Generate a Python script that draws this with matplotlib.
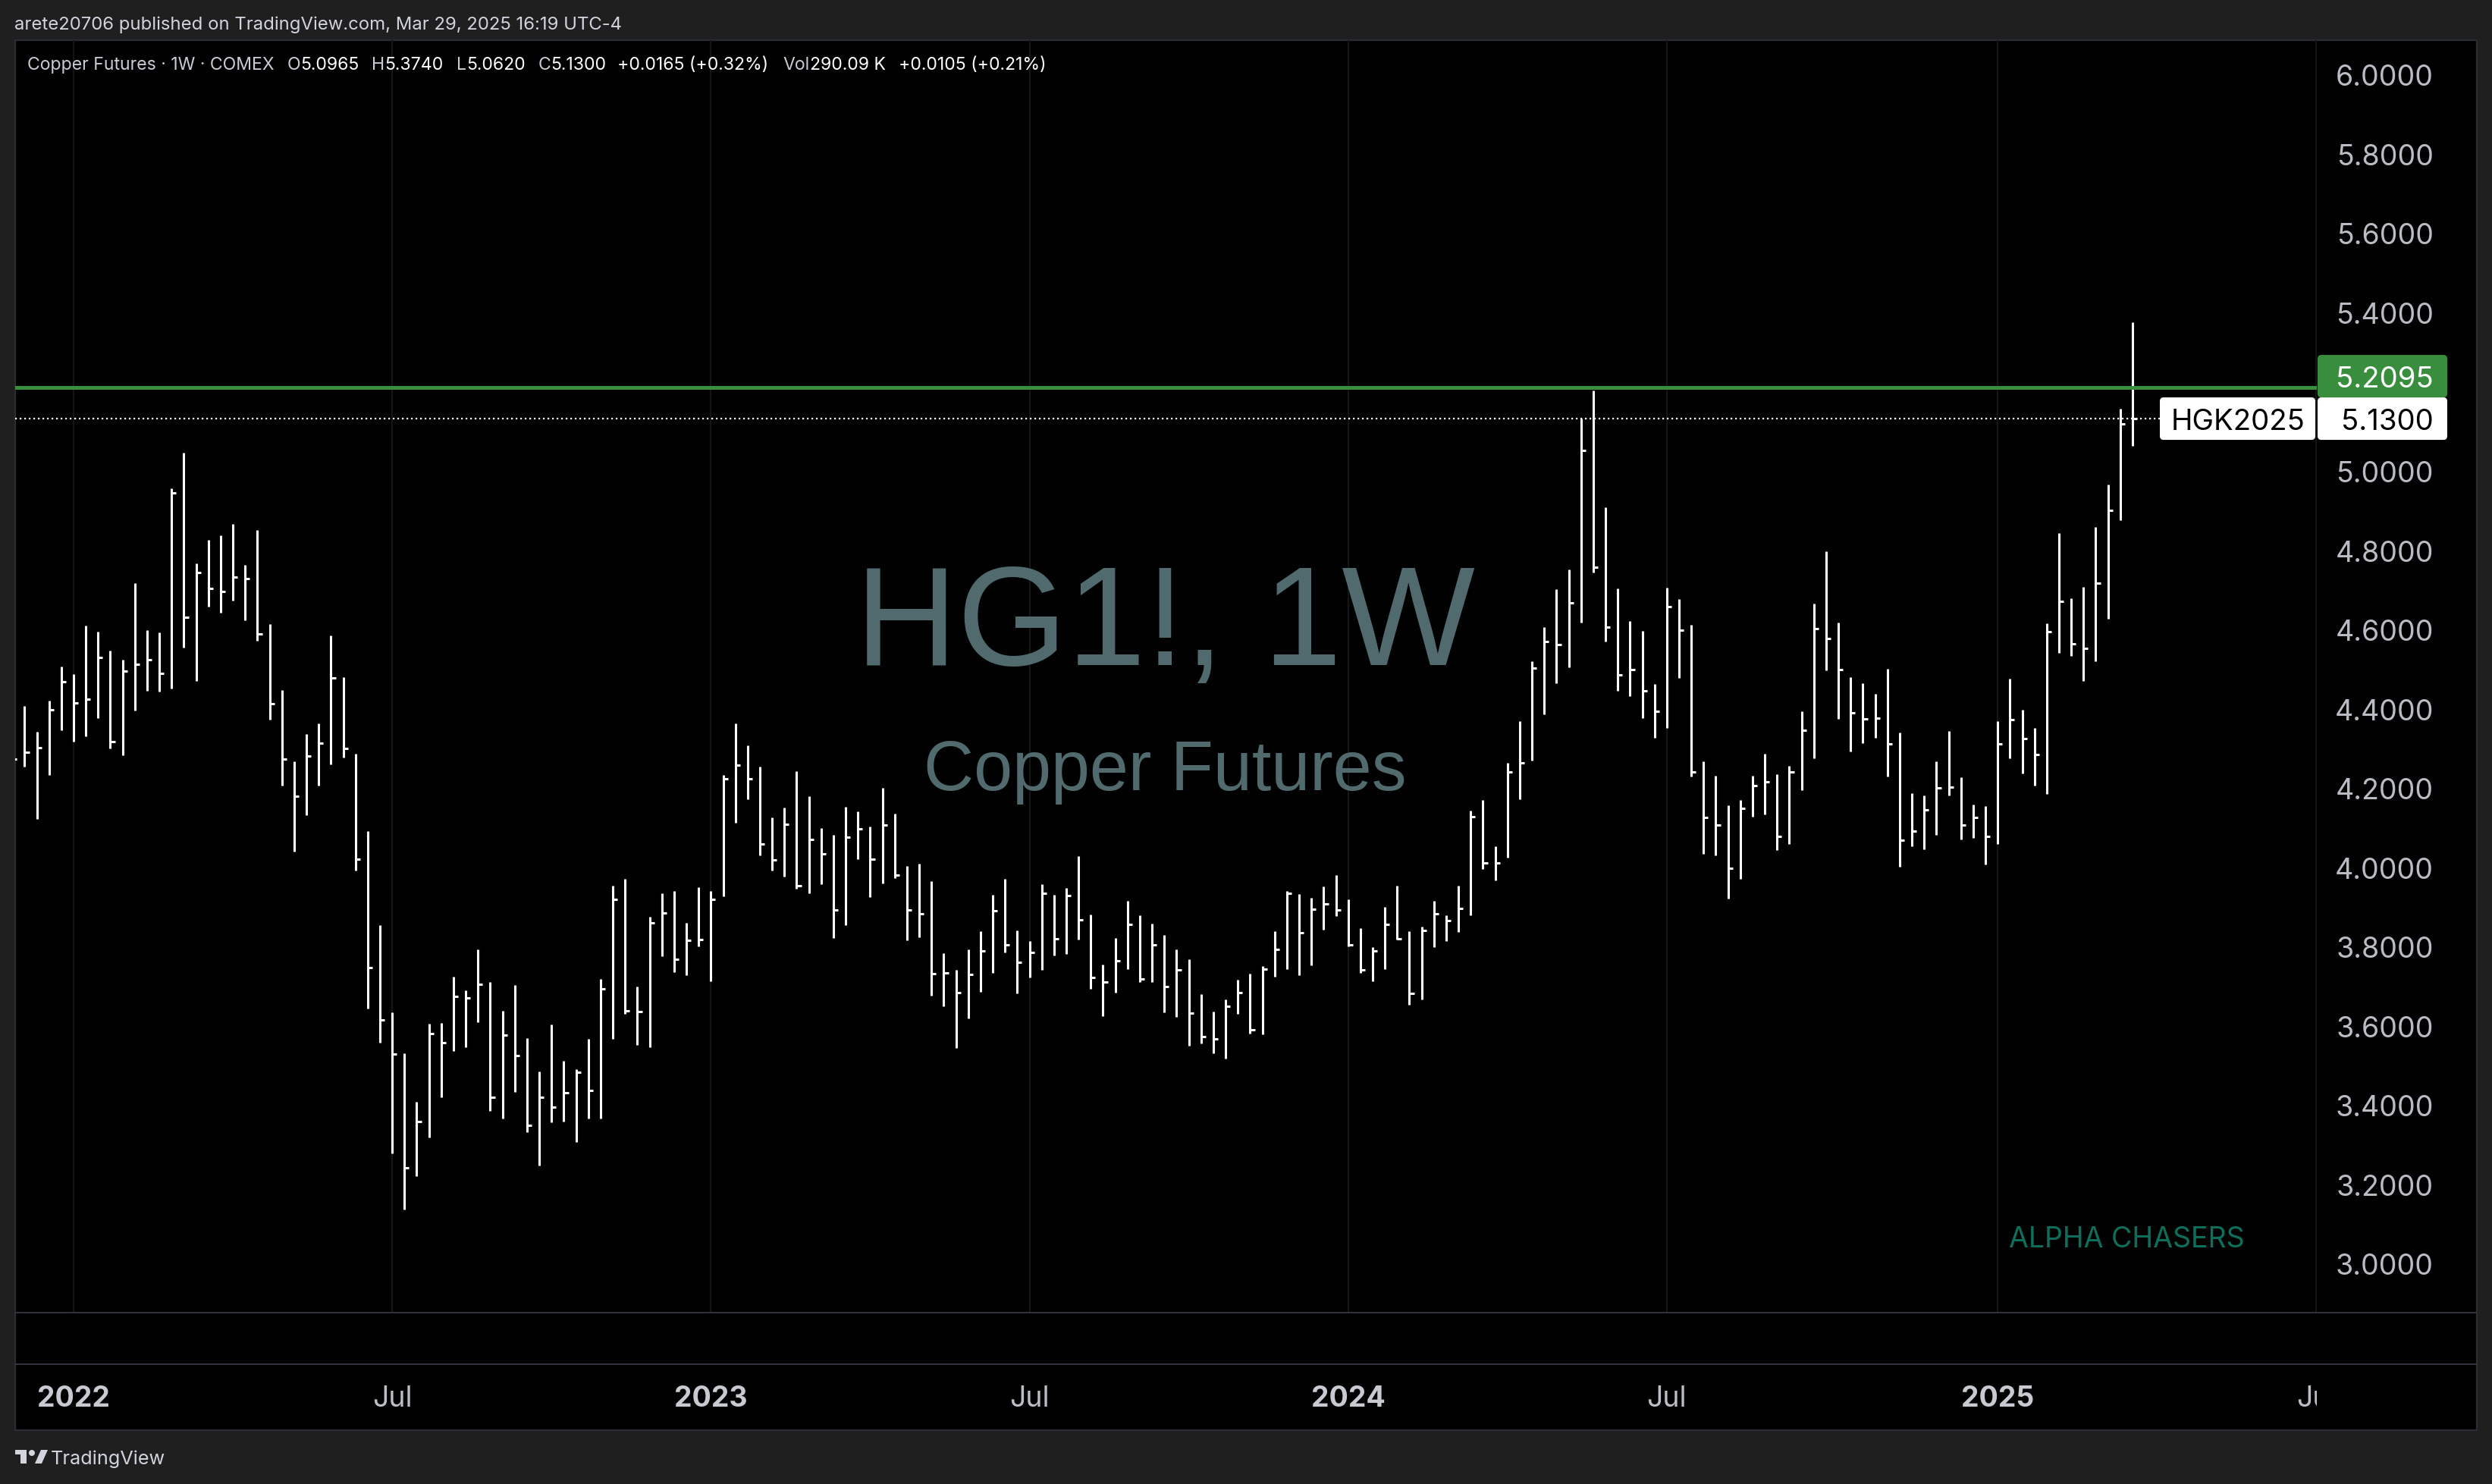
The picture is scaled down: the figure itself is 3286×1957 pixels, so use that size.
import matplotlib

matplotlib.use("Agg")
import matplotlib.pyplot as plt
import matplotlib.transforms as mtransforms
import numpy as np
import pandas as pd
from matplotlib.patches import FancyBboxPatch, Polygon, Rectangle, Circle

plt.rcParams["font.family"] = ["Inter", "DejaVu Sans"]

# недельные бары HG1! (HLC), первая неделя 2021-11-29
START = "2021-11-29"
highs = [4.40, 4.405, 4.339, 4.418, 4.505, 4.486, 4.608, 4.592, 4.545, 4.521,
         4.714, 4.596, 4.590, 4.955, 5.044, 4.765, 4.823, 4.835, 4.865, 4.761,
         4.848, 4.612, 4.446, 4.266, 4.334, 4.361, 4.582, 4.477, 4.285, 4.090,
         3.852, 3.632, 3.529, 3.406, 3.603, 3.605, 3.721, 3.688, 3.790, 3.708,
         3.636, 3.701, 3.566, 3.483, 3.601, 3.510, 3.489, 3.565, 3.716, 3.952,
         3.968, 3.697, 3.872, 3.932, 3.937, 3.857, 3.948, 3.937, 4.230, 4.361,
         4.306, 4.251, 4.123, 4.148, 4.240, 4.177, 4.097, 4.080, 4.150, 4.138,
         4.101, 4.198, 4.134, 4.002, 4.007, 3.962, 3.781, 3.739, 3.791, 3.837,
         3.929, 3.969, 3.838, 3.812, 3.956, 3.929, 3.946, 4.026, 3.879, 3.752,
         3.819, 3.913, 3.877, 3.856, 3.827, 3.790, 3.765, 3.678, 3.634, 3.664,
         3.714, 3.730, 3.749, 3.837, 3.937, 3.930, 3.921, 3.949, 3.978, 3.917,
         3.844, 3.796, 3.898, 3.952, 3.837, 3.848, 3.913, 3.876, 3.952, 4.141,
         4.168, 4.050, 4.262, 4.367, 4.518, 4.604, 4.700, 4.750, 5.130, 5.201,
         4.906, 4.702, 4.619, 4.595, 4.461, 4.704, 4.675, 4.609, 4.266, 4.229,
         4.155, 4.168, 4.229, 4.284, 4.232, 4.253, 4.391, 4.663, 4.796, 4.615,
         4.477, 4.463, 4.435, 4.498, 4.337, 4.184, 4.180, 4.266, 4.341, 4.225,
         4.157, 4.152, 4.366, 4.474, 4.395, 4.349, 4.614, 4.842, 4.676, 4.706,
         4.857, 4.963, 5.155, 5.374]
lows = [4.24, 4.252, 4.119, 4.231, 4.343, 4.314, 4.329, 4.374, 4.298, 4.281,
        4.394, 4.443, 4.441, 4.449, 4.552, 4.468, 4.655, 4.640, 4.670, 4.622,
        4.569, 4.370, 4.203, 4.037, 4.130, 4.203, 4.258, 4.274, 3.990, 3.641,
        3.555, 3.276, 3.135, 3.219, 3.316, 3.418, 3.534, 3.543, 3.606, 3.383,
        3.364, 3.431, 3.329, 3.245, 3.355, 3.356, 3.305, 3.364, 3.364, 3.564,
        3.628, 3.550, 3.543, 3.774, 3.734, 3.725, 3.799, 3.710, 3.925, 4.110,
        4.169, 4.027, 3.990, 3.974, 3.944, 3.933, 3.956, 3.819, 3.851, 4.018,
        3.922, 3.958, 3.971, 3.813, 3.821, 3.674, 3.648, 3.541, 3.617, 3.683,
        3.731, 3.782, 3.679, 3.719, 3.738, 3.776, 3.779, 3.816, 3.691, 3.622,
        3.682, 3.741, 3.709, 3.709, 3.631, 3.621, 3.547, 3.554, 3.529, 3.515,
        3.628, 3.579, 3.577, 3.722, 3.740, 3.726, 3.751, 3.840, 3.875, 3.799,
        3.732, 3.711, 3.741, 3.815, 3.651, 3.665, 3.797, 3.812, 3.834, 3.876,
        3.994, 3.965, 4.022, 4.170, 4.268, 4.383, 4.463, 4.503, 4.615, 4.741,
        4.568, 4.444, 4.429, 4.374, 4.324, 4.350, 4.475, 4.226, 4.032, 4.027,
        3.918, 3.968, 4.125, 4.132, 4.041, 4.057, 4.193, 4.272, 4.494, 4.373,
        4.290, 4.311, 4.324, 4.227, 4.000, 4.050, 4.043, 4.079, 4.179, 4.068,
        4.072, 4.004, 4.057, 4.273, 4.235, 4.204, 4.182, 4.539, 4.531, 4.468,
        4.517, 4.625, 4.873, 5.062]
closes = [4.271, 4.289, 4.299, 4.396, 4.466, 4.413, 4.422, 4.528, 4.315, 4.492,
          4.510, 4.521, 4.488, 4.942, 4.628, 4.742, 4.701, 4.693, 4.730, 4.726,
          4.586, 4.410, 4.270, 4.178, 4.279, 4.311, 4.475, 4.298, 4.018, 3.745,
          3.612, 3.526, 3.239, 3.356, 3.579, 3.556, 3.672, 3.668, 3.702, 3.417,
          3.574, 3.523, 3.346, 3.418, 3.392, 3.428, 3.480, 3.435, 3.692, 3.917,
          3.635, 3.634, 3.857, 3.883, 3.766, 3.814, 3.815, 3.916, 4.222, 4.255,
          4.221, 4.056, 4.016, 4.107, 3.951, 4.068, 4.032, 3.891, 4.074, 4.095,
          4.018, 4.104, 3.978, 3.890, 3.881, 3.730, 3.732, 3.682, 3.728, 3.787,
          3.889, 3.803, 3.759, 3.783, 3.933, 3.818, 3.926, 3.866, 3.719, 3.708,
          3.762, 3.853, 3.716, 3.803, 3.697, 3.738, 3.629, 3.570, 3.565, 3.648,
          3.682, 3.587, 3.740, 3.791, 3.933, 3.832, 3.892, 3.905, 3.891, 3.802,
          3.738, 3.787, 3.853, 3.818, 3.679, 3.839, 3.881, 3.863, 3.893, 4.126,
          4.009, 4.008, 4.238, 4.261, 4.500, 4.568, 4.559, 4.666, 5.050, 4.756,
          4.603, 4.484, 4.497, 4.444, 4.392, 4.655, 4.596, 4.238, 4.124, 4.105,
          3.996, 4.146, 4.203, 4.213, 4.075, 4.238, 4.344, 4.601, 4.576, 4.497,
          4.388, 4.373, 4.375, 4.310, 4.066, 4.090, 4.143, 4.199, 4.200, 4.104,
          4.124, 4.076, 4.309, 4.370, 4.323, 4.283, 4.593, 4.668, 4.562, 4.550,
          4.714, 4.899, 5.117, 5.130]

LEVEL = 5.2095
LAST_CLOSE = 5.13
CONTRACT = "HGK2025"
price_ticks = [3.0, 3.2, 3.4, 3.6, 3.8, 4.0, 4.2, 4.4, 4.6, 4.8, 5.0, 5.2, 5.4, 5.6, 5.8, 6.0]
time_tick_dates = ["2022-01-03", "2022-07-04", "2023-01-02", "2023-07-03",
                   "2024-01-01", "2024-07-01", "2025-01-06", "2025-07-07"]
time_tick_labels = ["2022", "Jul", "2023", "Jul", "2024", "Jul", "2025", "Jul"]

HEADER = "arete20706 published on TradingView.com, Mar 29, 2025 16:19 UTC-4"
LEGEND = [("Copper Futures · 1W · COMEX", "lab", 17),
          ("O", "lab", 0), ("5.0965", "val", 17),
          ("H", "lab", 0), ("5.3740", "val", 17),
          ("L", "lab", 0), ("5.0620", "val", 17),
          ("C", "lab", 0), ("5.1300", "val", 15),
          ("+0.0165 (+0.32%)", "val", 19),
          ("Vol", "lab", 0), ("290.09 K", "val", 17),
          ("+0.0105 (+0.21%)", "val", 0)]

W, H, DPI = 3286, 1958, 200
PX0, PY0, PX1, PY1 = 20, 54, 3055, 1732
BG = "#1f1f1f"
LINE = "#30333c"
TXT = "#d1d4dc"
AXTXT = "#babcc4"
TDY = 5  # поправка вертикального центра цифр, px

fig = plt.figure(figsize=(W / DPI, H / DPI), dpi=DPI)
fig.patch.set_facecolor(BG)
# пиксели фигуры, начало в левом верхнем углу
FPX = mtransforms.Affine2D().scale(1 / W, -1 / H).translate(0, 1) + fig.transFigure


def px_axes(x0, y0, x1, y1):
    return fig.add_axes([x0 / W, 1 - y1 / H, (x1 - x0) / W, (y1 - y0) / H])


fig.add_artist(Rectangle((20, 54), 3246, 1833, transform=FPX, facecolor="black",
                         edgecolor="#2a2d35", lw=0.8, zorder=-2))
for yy in (1732, 1800):
    fig.add_artist(Rectangle((20, yy - 1), 3246, 2, transform=FPX, facecolor=LINE,
                             edgecolor="none", zorder=4))

weeks = pd.date_range(START, periods=len(closes), freq="7D")
x = np.arange(len(closes))
t0 = weeks[0]
tick_idx = [(pd.Timestamp(d) - t0).days / 7 for d in time_tick_dates]

ax = px_axes(PX0, PY0, PX1, PY1)
ax.set_facecolor("black")
ax.set_axis_off()
ax.set_xlim(0.235, 188.04)
ax.set_ylim(2.874, 6.085)

ax.vlines(tick_idx, 2.874, 6.085, colors="#151515", lw=0.8, zorder=0)
ax.vlines(x, lows, highs, colors="white", lw=1.1, capstyle="butt", zorder=2)
ax.hlines(closes, x, x + 0.38, colors="white", lw=1.1, capstyle="butt", zorder=2)
ax.axhline(LEVEL, color="#388e3c", lw=1.8, zorder=3)
bt = mtransforms.blended_transform_factory(ax.transAxes, ax.transData)
ax.plot([0, 0.9318], [LAST_CLOSE, LAST_CLOSE], transform=bt, color="white",
        lw=0.8, dashes=(1, 1.7), zorder=3)

ax.text(0.4995, 0.5095, "HG1!, 1W", transform=ax.transAxes, ha="center", va="baseline",
        fontsize=67, color="#506a6e", family="Liberation Sans", zorder=1)
ax.text(0.4995, 0.4112, "Copper Futures", transform=ax.transAxes, ha="center",
        va="baseline", fontsize=33, color="#506a6e", family="Liberation Sans", zorder=1)
ax.text(0.9173, 0.0518, "ALPHA CHASERS", transform=ax.transAxes, ha="center",
        va="baseline", fontsize=13.5, color="#0e6e5c", zorder=1)


def y_px(p):
    lo, hi = ax.get_ylim()
    return PY0 + (hi - p) / (hi - lo) * (PY1 - PY0)


# метки цены: закрытие и уровень (уровень сдвинут вверх, чтобы не перекрывать)
BOX_H = 56
yc = y_px(LAST_CLOSE)
boxes = (
    (3056, 3227, yc - BOX_H / 2, "white", f"{LAST_CLOSE:.4f}", "black", 3209, "right"),
    (2848, 3053, yc - BOX_H / 2, "white", CONTRACT, "black", 2951, "center"),
    (3056, 3227, yc - 1.5 * BOX_H, "#388e3c", f"{LEVEL:.4f}", "white", 3209, "right"))
box_top, box_bot = yc - 1.5 * BOX_H, yc + BOX_H / 2

for p in price_ticks:
    yp = y_px(p)
    if box_top - 15 < yp < box_bot + 15:
        continue  # закрыта плашками цены
    fig.text(3209, yp + TDY, f"{p:.4f}", transform=FPX, ha="right", va="center",
             fontsize=13.5, color=AXTXT, zorder=3)

for x0, x1, y0, face, txt, tcol, tx, ha in boxes:
    fig.add_artist(FancyBboxPatch((x0, y0), x1 - x0, BOX_H,
                                  boxstyle="round,pad=0,rounding_size=5", transform=FPX,
                                  facecolor=face, edgecolor="none", zorder=5))
    fig.text(tx, y0 + BOX_H / 2 + TDY - 1, txt, transform=FPX, ha=ha, va="center",
             fontsize=13.8, color=tcol, zorder=6)

# шкала времени
ax_t = px_axes(PX0, 1801, PX1, 1886)
ax_t.set_axis_off()
ax_t.set_xlim(ax.get_xlim())
ax_t.set_ylim(0, 1)
for i, lab in zip(tick_idx, time_tick_labels):
    bold = lab != "Jul"
    ax_t.text(i, 0.48, lab, ha="center", va="center", fontsize=13.5, clip_on=True,
              fontweight="bold" if bold else "normal",
              color="#c8cad2" if bold else "#bcbec6")

# заголовок и легенда
fig.text(19, 33, HEADER, transform=FPX, ha="left", va="center", fontsize=8.6, color=TXT)
renderer = fig.canvas.get_renderer()
cx = 36
for s, kind, gap in LEGEND:
    t = fig.text(cx, 86, s, transform=FPX, ha="left", va="center", fontsize=8.3,
                 color="#c9ccd4" if kind == "lab" else "white")
    cx = t.get_window_extent(renderer).x1 + gap

# логотип TradingView
LOGO = "#d1d4dc"
fig.add_artist(Rectangle((20, 1913), 15, 6, transform=FPX, facecolor=LOGO, edgecolor="none"))
fig.add_artist(Rectangle((27, 1913), 8, 18, transform=FPX, facecolor=LOGO, edgecolor="none"))
fig.add_artist(Circle((42, 1917), 4, transform=FPX, facecolor=LOGO, edgecolor="none"))
fig.add_artist(Polygon([(46, 1931), (54, 1913), (63, 1913), (55, 1931)], transform=FPX,
                       facecolor=LOGO, edgecolor="none"))
fig.text(67, 1924, "TradingView", transform=FPX, ha="left", va="center", fontsize=9.1,
         color=TXT)

fig.savefig("out.png", dpi=DPI, facecolor=fig.get_facecolor())
